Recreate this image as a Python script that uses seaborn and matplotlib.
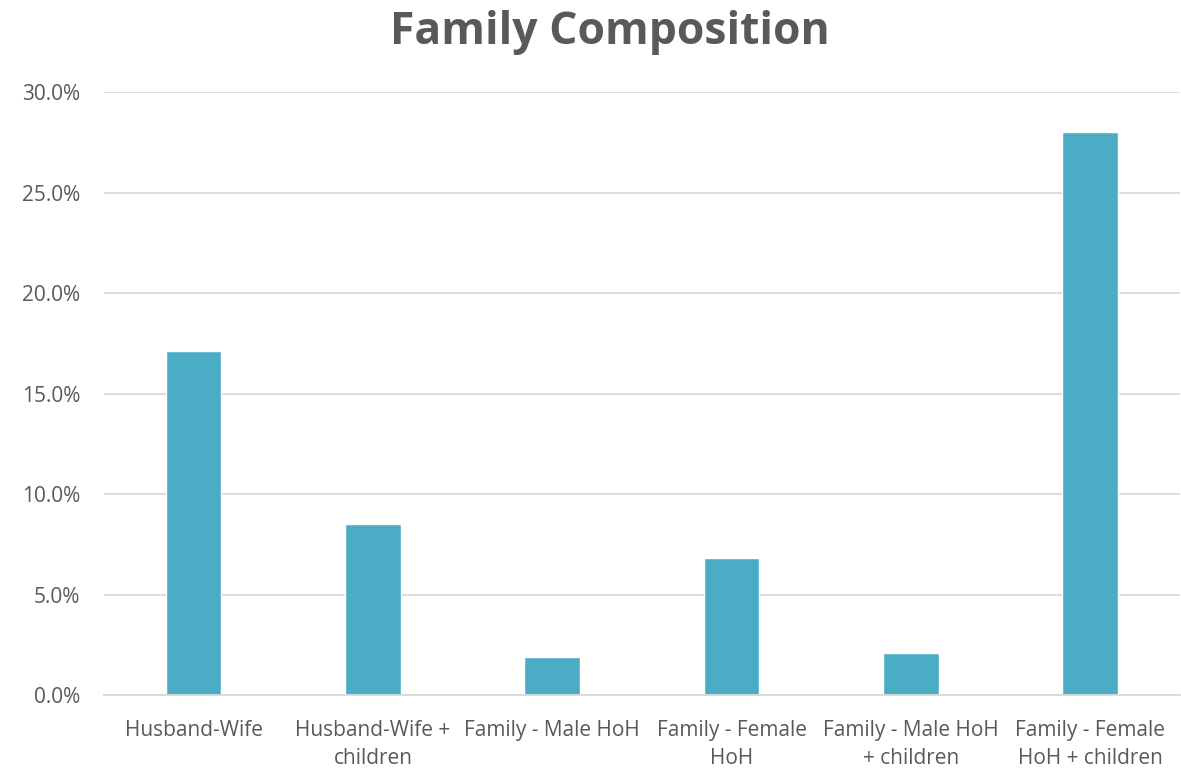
import numpy as np
import pandas as pd
import matplotlib
matplotlib.use("Agg")
import matplotlib.pyplot as plt
import seaborn as sns
from matplotlib.ticker import PercentFormatter

categories = ["Husband-Wife", "Husband-Wife +\nchildren", "Family - Male HoH",
              "Family - Female\nHoH", "Family - Male HoH\n+ children",
              "Family - Female\nHoH + children"]
shares = [17.1, 8.5, 1.9, 6.8, 2.1, 28.0]

df = pd.DataFrame({"category": categories, "share": shares})

sns.set_style("white")
plt.rcParams["font.family"] = ["Open Sans", "DejaVu Sans"]

fig = plt.figure(figsize=(11.81, 7.70), dpi=100)
ax = fig.add_axes([0.088, 0.0974, 0.911, 0.7831])

sns.barplot(data=df, x="category", y="share", color="#4BACC6",
            saturation=1, width=0.31, ax=ax)

ax.set_ylim(0, 30)
ax.set_xlim(-0.5, 5.5)
ax.set_yticks(np.arange(0, 31, 5))
ax.yaxis.set_major_formatter(PercentFormatter(decimals=1))
ax.grid(axis="y", color="#D9D9D9", linewidth=1.3)
ax.set_axisbelow(True)
for s in ["top", "right", "left"]:
    ax.spines[s].set_visible(False)
ax.spines["bottom"].set_color("#D9D9D9")
ax.spines["bottom"].set_linewidth(1.3)
ax.tick_params(axis="both", length=0, labelsize=15, colors="#595959")
ax.tick_params(axis="y", pad=17)
ax.tick_params(axis="x", pad=18)
for lbl in ax.get_xticklabels():
    lbl.set_linespacing(1.45)
ax.set_xlabel("")
ax.set_ylabel("")

fig.text(0.5165, 0.958, "Family Composition", ha="center", va="center",
         fontsize=32, fontweight="bold", color="#595959")

fig.savefig("out.png", dpi=100)
